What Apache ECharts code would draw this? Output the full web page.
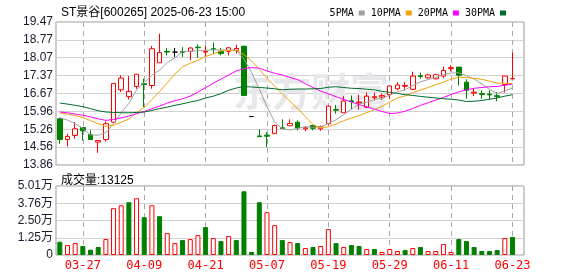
<!DOCTYPE html>
<html><head><meta charset="utf-8">
<script src="https://cdn.jsdelivr.net/npm/echarts@6/dist/echarts.min.js"></script>
<style>html,body{margin:0;padding:0;background:#fff}#c{width:578px;height:276px}</style>
</head><body><div id="c"></div>
<script>
const titleText = 'ST景谷[600265] 2025-06-23 15:00';
const volTitle = '成交量:13125';
const maNames = ['5PMA', '10PMA', '20PMA', '30PMA'];

const dates = ['03-24','03-25','03-26','03-27','03-28','03-31','04-01','04-02','04-03','04-07',
  '04-08','04-09','04-10','04-11','04-14','04-15','04-16','04-17','04-18','04-21',
  '04-22','04-23','04-24','04-25','04-28','04-29','04-30','05-07','05-08','05-09',
  '05-12','05-13','05-14','05-15','05-16','05-19','05-20','05-21','05-22','05-23',
  '05-26','05-27','05-28','05-29','05-30','06-03','06-04','06-05','06-06','06-09',
  '06-10','06-11','06-12','06-13','06-16','06-17','06-18','06-19','06-20','06-23'];

const opens = [15.67,14.86,15.02,15.33,15.05,14.76,14.86,15.54,16.81,16.54,
  16.94,17.05,16.98,17.87,18.32,18.29,18.31,18.32,18.48,18.29,
  18.42,18.32,18.32,18.36,18.52,15.76,15.00,15.03,15.09,15.32,
  15.40,15.54,15.28,15.41,15.28,15.48,16.04,15.91,16.38,16.30,
  16.13,16.50,16.53,16.62,16.85,16.95,16.83,17.36,17.28,17.24,
  17.35,17.64,17.70,17.11,16.68,16.66,16.64,16.58,17.02,17.24];
const closes = [14.86,14.98,15.28,15.20,14.86,14.82,15.48,17.06,17.27,16.75,
  17.42,17.02,18.42,18.27,18.29,18.29,18.28,18.45,18.46,18.32,
  18.40,18.23,18.46,18.43,16.59,15.76,14.97,14.99,15.41,15.29,
  15.49,15.31,15.32,15.30,15.37,16.17,16.01,16.37,16.35,16.33,
  16.56,16.54,16.59,16.96,17.00,16.98,17.35,17.33,17.39,17.40,
  17.57,17.68,17.38,16.79,16.72,16.63,16.61,16.55,17.35,17.25];
const lows = [14.69,14.59,14.89,14.82,14.86,14.34,14.78,15.49,16.72,16.43,
  16.85,16.13,16.85,17.87,18.16,18.10,18.10,17.97,18.06,18.10,
  18.23,18.16,18.16,18.23,16.59,15.76,14.97,14.56,15.09,15.29,
  15.40,15.22,15.18,15.22,15.20,15.44,15.87,15.91,16.04,16.04,
  16.09,16.39,16.42,16.46,16.79,16.79,16.80,17.25,17.25,17.22,
  17.28,17.53,16.98,16.46,16.56,16.46,16.44,16.36,16.70,17.24];
const highs = [15.71,15.08,15.54,15.33,15.22,14.82,15.57,17.06,17.38,17.35,
  17.42,17.25,18.53,19.01,18.45,18.45,18.48,18.48,18.59,18.55,
  18.66,18.45,18.46,18.58,18.53,15.76,15.26,15.15,15.44,15.65,
  15.65,15.61,15.37,15.44,15.41,16.20,16.22,16.56,16.59,16.62,
  16.70,16.70,16.66,16.98,17.11,17.11,17.52,17.48,17.44,17.44,
  17.72,17.77,17.70,17.22,16.88,16.79,16.79,16.72,17.35,18.27];
const volumes = [9635,7226,8671,6503,3854,5781,11562,33962,36130,38298,
  41188,27459,36130,28181,15897,8671,10839,11562,14452,20233,
  12284,10116,13729,10839,46246,2168,38298,31072,21678,10839,
  9394,8671,5058,5781,6503,18788,8671,5781,7226,6503,
  4336,4336,2168,4336,2890,3613,5058,5781,2890,2890,
  7949,2168,11562,10116,5781,2890,2890,3613,12284,13125];

const ma5 = [15.72,15.62,15.48,15.30,15.04,15.03,15.13,15.48,15.90,16.28,
  16.80,17.10,17.38,17.58,17.88,18.06,18.31,18.32,18.35,18.36,
  18.38,18.37,18.37,18.37,18.02,17.49,16.84,16.15,15.54,15.28,
  15.23,15.30,15.36,15.34,15.36,15.49,15.63,15.84,16.05,16.25,
  16.32,16.43,16.47,16.60,16.73,16.81,16.98,17.12,17.21,17.29,
  17.41,17.47,17.48,17.36,17.23,17.04,16.83,16.66,16.77,16.88];
const ma10 = [15.90,15.86,15.80,15.72,15.60,15.48,15.38,15.42,15.54,15.66,
  15.91,16.12,16.43,16.74,17.08,17.43,17.71,17.85,17.97,18.12,
  18.22,18.34,18.35,18.36,18.19,17.94,17.61,17.26,16.96,16.65,
  16.36,16.07,15.76,15.44,15.32,15.36,15.47,15.60,15.70,15.80,
  15.91,16.03,16.16,16.33,16.49,16.57,16.70,16.80,16.90,17.01,
  17.11,17.23,17.30,17.29,17.26,17.22,17.15,17.07,17.07,17.05];
const ma20 = [15.94,15.91,15.86,15.81,15.75,15.67,15.61,15.65,15.71,15.78,
  15.87,15.96,16.07,16.17,16.29,16.38,16.46,16.56,16.72,16.89,
  17.07,17.23,17.39,17.55,17.64,17.68,17.66,17.55,17.46,17.39,
  17.29,17.21,17.05,16.90,16.76,16.65,16.54,16.43,16.33,16.23,
  16.14,16.05,15.96,15.88,15.90,15.97,16.08,16.20,16.30,16.41,
  16.51,16.63,16.73,16.81,16.87,16.90,16.93,16.94,16.99,17.03];
const ma30 = [16.29,16.25,16.20,16.15,16.07,15.99,15.94,15.92,15.91,15.91,
  15.92,15.94,16.00,16.07,16.13,16.20,16.26,16.33,16.39,16.49,
  16.56,16.66,16.79,16.88,16.94,16.92,16.90,16.88,16.85,16.81,
  16.83,16.84,16.84,16.85,16.86,16.91,16.93,16.90,16.87,16.86,
  16.83,16.81,16.75,16.71,16.67,16.62,16.59,16.55,16.52,16.49,
  16.46,16.44,16.41,16.35,16.36,16.39,16.44,16.49,16.56,16.62];

const priceTicks = ['13.86','14.56','15.26','15.96','16.67','17.37','18.07','18.77','19.47'];
const volTicks = ['0','1.25万','2.50万','3.76万','5.01万'];
const volTickValues = [0, 12525, 25050, 37575, 50100];
const labelDates = ['03-27','04-09','04-21','05-07','05-19','05-29','06-11','06-23'];

const RED = '#ff0000', GREEN = '#008000';
const pMin = +priceTicks[0], pMax = +priceTicks[priceTicks.length - 1];
const pInt = (pMax - pMin) / (priceTicks.length - 1);
const vMax = volTickValues[volTickValues.length - 1];
const vInt = vMax / (volTickValues.length - 1);

const candleData = opens.map((o, i) => [o, closes[i], lows[i], highs[i]]);
const volData = volumes.map((v, i) => {
  const up = i === 0 ? closes[i] >= opens[i] : closes[i] >= closes[i - 1];
  return { value: v, itemStyle: { color: up ? '#fff' : GREEN, borderColor: up ? RED : GREEN, borderWidth: 1 } };
});

const isLabelDate = (idx, val) => labelDates.indexOf(val !== undefined ? val : dates[idx]) >= 0;
const dashSplit = () => ({
  show: true, interval: isLabelDate, alignWithLabel: true,
  lineStyle: { color: '#a8a8a8', width: 1, type: [5, 4] }
});

const W = 468;
const chart = echarts.init(document.getElementById('c'), null, { renderer: 'canvas' });
chart.setOption({
  animation: false,
  backgroundColor: '#fff',
  title: [
    { text: titleText, left: 56, top: 2, textStyle: { fontSize: 12, fontWeight: 'normal', color: '#000', fontFamily: 'Liberation Sans, Noto Sans CJK SC' } },
    { text: volTitle, left: 56, top: 170, textStyle: { fontSize: 12, fontWeight: 'normal', color: '#000', fontFamily: 'Liberation Sans, Noto Sans CJK SC' } }
  ],
  legend: {
    data: maNames, right: 67, top: 3, icon: 'rect', itemWidth: 6, itemHeight: 5, itemGap: 6,
    align: 'right', selectedMode: false,
    textStyle: { fontSize: 10, color: '#000', fontFamily: 'DejaVu Sans Mono' }
  },
  graphic: [{
    type: 'text', left: 233, top: 72, z: 1, silent: true,
    style: { text: '东方财富', font: 'bold 39px "Noto Sans CJK SC"', fill: '#e8e8ec' }
  }],
  grid: [
    { left: 56, top: 22, width: W, height: 143, show: true, borderColor: '#999', borderWidth: 1 },
    { left: 56, top: 186, width: W, height: 69, show: true, borderColor: '#999', borderWidth: 1 }
  ],
  xAxis: [
    { type: 'category', gridIndex: 0, data: dates, max: dates.length,
      axisLine: { show: false }, axisTick: { show: false },
      axisLabel: { show: false, interval: isLabelDate }, splitLine: dashSplit() },
    { type: 'category', gridIndex: 1, data: dates, max: dates.length,
      axisLine: { show: false }, axisTick: { show: false },
      splitLine: dashSplit(),
      axisLabel: { interval: isLabelDate, color: RED, fontSize: 12, fontFamily: 'DejaVu Sans Mono', margin: 5 } }
  ],
  yAxis: [
    { type: 'value', gridIndex: 0, min: pMin, max: pMax, interval: pInt,
      axisLine: { show: false }, axisTick: { show: false },
      splitLine: { show: true, lineStyle: { color: '#d2d2d2', width: 1 } },
      axisLabel: { margin: 3, fontSize: 12, color: '#1a1a2e', fontFamily: 'Liberation Sans',
        formatter: v => priceTicks[Math.round((v - pMin) / pInt)] } },
    { type: 'value', gridIndex: 1, min: 0, max: vMax, interval: vInt,
      axisLine: { show: false }, axisTick: { show: false },
      splitLine: { show: true, lineStyle: { color: '#d2d2d2', width: 1 } },
      axisLabel: { margin: 3, fontSize: 12, color: '#1a1a2e', fontFamily: 'Liberation Sans, Noto Sans CJK SC',
        formatter: v => volTicks[Math.round(v / vInt)] } }
  ],
  series: [
    { name: 'K', type: 'candlestick', xAxisIndex: 0, yAxisIndex: 0, data: candleData, barWidth: 5,
      itemStyle: { color: '#fff', color0: GREEN, borderColor: RED, borderColor0: GREEN, borderColorDoji: '#000', borderWidth: 1 },
      emphasis: { disabled: true } },
    { name: maNames[0], type: 'line', data: ma5, symbol: 'none', showSymbol: false, xAxisIndex: 0, yAxisIndex: 0,
      lineStyle: { width: 1, color: '#a0a0a0' }, itemStyle: { color: '#a0a0a0' }, z: 3 },
    { name: maNames[1], type: 'line', data: ma10, symbol: 'none', showSymbol: false, xAxisIndex: 0, yAxisIndex: 0,
      lineStyle: { width: 1, color: '#f0a30a' }, itemStyle: { color: '#f0a30a' }, z: 3 },
    { name: maNames[2], type: 'line', data: ma20, symbol: 'none', showSymbol: false, xAxisIndex: 0, yAxisIndex: 0,
      lineStyle: { width: 1, color: '#ff00ff' }, itemStyle: { color: '#ff00ff' }, z: 3 },
    { name: maNames[3], type: 'line', data: ma30, symbol: 'none', showSymbol: false, xAxisIndex: 0, yAxisIndex: 0,
      lineStyle: { width: 1, color: '#006b2a' }, itemStyle: { color: '#006b2a' }, z: 3 },
    { name: 'VOL', type: 'bar', xAxisIndex: 1, yAxisIndex: 1, data: volData, barWidth: 5,
      emphasis: { disabled: true } }
  ]
});
</script>
</body></html>
